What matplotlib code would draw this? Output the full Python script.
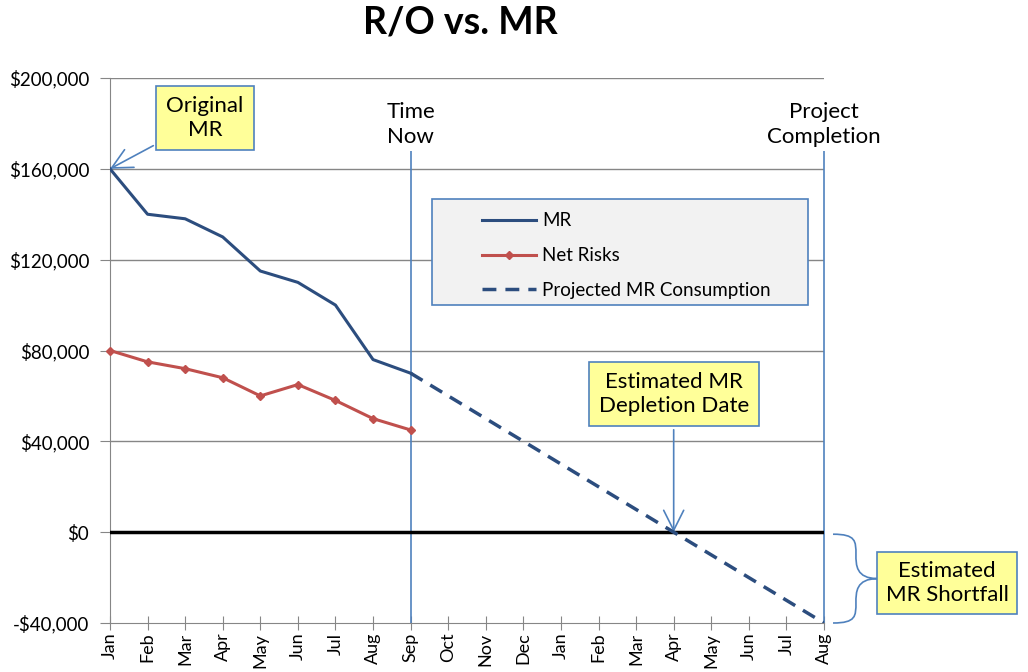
import matplotlib.pyplot as plt
from matplotlib.patches import Rectangle, PathPatch
from matplotlib.path import Path
from matplotlib.lines import Line2D

plt.rcParams['font.family'] = ['Lato', 'DejaVu Sans']

# month labels along the x axis (Jan of year 1 .. Aug of year 2)
months = ['Jan', 'Feb', 'Mar', 'Apr', 'May', 'Jun', 'Jul', 'Aug', 'Sep', 'Oct', 'Nov', 'Dec',
          'Jan', 'Feb', 'Mar', 'Apr', 'May', 'Jun', 'Jul', 'Aug']

# actuals up to "time now" (Sep)
mr = [160000, 140000, 138000, 130000, 115000, 110000, 100000, 76000, 70000]
net_risks = [80000, 75000, 72000, 68000, 60000, 65000, 58000, 50000, 45000]

# projected MR consumption, Sep .. Aug of next year
projected = [70000, 60000, 50000, 40000, 30000, 20000, 10000, 0, -10000, -20000, -30000, -40000]

time_now = 8        # index of Sep
completion = 19     # index of the last Aug
depletion = 15      # index of Apr (year 2)

yticks = [-40000, 0, 40000, 80000, 120000, 160000, 200000]
ytick_labels = ['-$40,000', '$0', '$40,000', '$80,000', '$120,000', '$160,000', '$200,000']

fig = plt.figure(figsize=(10.28, 6.72), dpi=100)
ax = fig.add_axes([110/1028, 1 - 623/672, 714/1028, 545/672])

x_mr = list(range(len(mr)))
x_proj = list(range(time_now, time_now + len(projected)))

grid_col = '#868686'
blue = '#4f81bd'
dark = '#2c4d7e'
ax.set_xlim(0, len(months) - 1)
ax.set_ylim(-40000, 200000)
ax.set_yticks(yticks)
ax.set_yticklabels(ytick_labels, fontsize=13.5)
ax.set_xticks(range(len(months)))
ax.set_xticklabels(months, rotation=90, fontsize=13)
for y in yticks[2:]:
    ax.axhline(y, color=grid_col, lw=1, zorder=1)
ax.axhline(0, color='black', lw=2.5, zorder=3)

for s in ['top', 'right']:
    ax.spines[s].set_visible(False)
ax.spines['left'].set_color(grid_col)
ax.spines['bottom'].set_color(grid_col)
ax.tick_params(axis='y', direction='out', length=7, color=grid_col, pad=8)
ax.tick_params(axis='x', direction='inout', length=10, color=grid_col, pad=2)

# vertical markers
ax.vlines([time_now, completion], -40000, 168000, color=blue, lw=1.2, zorder=2, clip_on=False)
ax.text(time_now, 179500, 'Time\nNow', ha='center', va='center', fontsize=16, linespacing=1.3)
ax.text(completion, 179500, 'Project\nCompletion', ha='center', va='center', fontsize=16, linespacing=1.3)

# series
ax.plot(x_proj, projected, color=dark, lw=2.5, ls=(0, (4, 2.6)), zorder=4)
ax.plot(x_mr, mr, color=dark, lw=2.2, zorder=4)
ax.plot(x_mr, net_risks, color='#c0504d', lw=2.2, marker='D', ms=4, zorder=4, clip_on=False)

# legend box (drawn by hand to get the Excel-like padding)
fig.patches.append(Rectangle((432/1028, 1 - 305/672), 376/1028, 106/672, transform=fig.transFigure,
                             facecolor='#f2f2f2', edgecolor=blue, lw=1.2, zorder=5))
handles = [Line2D([], [], color=dark, lw=2.2),
           Line2D([], [], color='#c0504d', lw=2.2, marker='D', ms=4),
           Line2D([], [], color=dark, lw=2.5, ls=(0, (4, 2.6)))]
leg = fig.legend(handles, ['MR', 'Net Risks', 'Projected MR Consumption'], loc='upper left',
                 bbox_to_anchor=(473/1028, 1 - 203/672), frameon=False, fontsize=13.5,
                 handlelength=2.85, handletextpad=0.32, labelspacing=0.95, borderpad=0)
leg.set_zorder(6)

# callouts
box = dict(boxstyle='square,pad=0.45', facecolor='#ffff99', edgecolor=blue, lw=1.2)
arrow = dict(arrowstyle='->,head_length=0.9,head_width=0.45', color=blue, lw=1.2, shrinkB=0)
ax.annotate('Original\nMR', xy=(0, mr[0]), xytext=(205, 672 - 118), textcoords='figure pixels',
            ha='center', va='center', fontsize=16, bbox=box, arrowprops=arrow, annotation_clip=False,
            linespacing=1.3)
ax.annotate('Estimated MR\nDepletion Date', xy=(depletion, 0), xytext=(depletion, 672 - 394),
            textcoords=('data', 'figure pixels'), ha='center', va='center', fontsize=16, bbox=box,
            arrowprops=arrow, linespacing=1.3)
fig.text(947/1028, 1 - 583/672, 'Estimated\nMR Shortfall', ha='center', va='center', fontsize=16,
         linespacing=1.3, bbox=dict(boxstyle='square,pad=0.4', facecolor='#ffff99', edgecolor=blue, lw=1.2))

# curly brace next to the shortfall
x0, x1, x2 = 19.24, 19.85, 20.43
yt, yb = -900, -40000
ym = (yt + yb) / 2
verts = [(x0, yt), (x1, yt), (x1, yt - 3000), (x1, yt - 9000),
         (x1, ym + 6000), (x1, ym), (x2, ym),
         (x1, ym), (x1, ym - 6000), (x1, yb + 9000),
         (x1, yb + 3000), (x1, yb), (x0, yb)]
codes = [Path.MOVETO, Path.CURVE4, Path.CURVE4, Path.CURVE4,
         Path.CURVE4, Path.CURVE4, Path.CURVE4,
         Path.CURVE4, Path.CURVE4, Path.CURVE4,
         Path.CURVE4, Path.CURVE4, Path.CURVE4]
ax.add_patch(PathPatch(Path(verts, codes), facecolor='none', edgecolor=blue, lw=1.2, clip_on=False))

fig.text(460/1028, 1 - 23/672, 'R/O vs. MR', ha='center', va='center', fontsize=27, fontweight='bold')

fig.savefig('out.png', dpi=100)
